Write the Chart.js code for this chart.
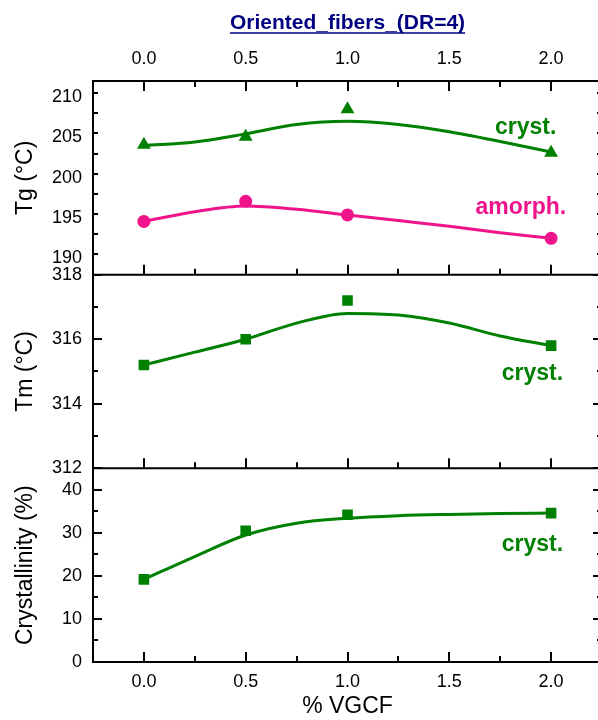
<!DOCTYPE html>
<html>
<head>
<meta charset="utf-8">
<script src="https://cdn.jsdelivr.net/npm/chart.js@4.4.1/dist/chart.umd.min.js"></script>
<style>
  html, body { margin: 0; padding: 0; background: #fff; overflow: hidden; }
  #wrap { position: absolute; left: 0; top: 0; width: 610px; height: 720px; }
</style>
</head>
<body>
<div id="wrap"><canvas id="chart" width="610" height="720"></canvas></div>
<script>
// measured samples
const vgcf = [0, 0.5, 1.0, 2.0];
const tgCryst = [204.1, 205.1, 208.5, 203.1];
const tgAmorph = [194.6, 197.1, 195.4, 192.5];
const tmCryst = [315.2, 316.0, 317.2, 315.8];
const crystallinity = [19.2, 30.5, 34.2, 34.6];

// smoothed fit curves
const fitX = [0, 0.25, 0.5, 0.75, 1.0, 1.25, 1.5, 1.75, 2.0];
const tgCrystFit = [204.0, 204.45, 205.45, 206.6, 207.0, 206.6, 205.7, 204.5, 203.2];
const tgAmorphFit = [194.6, 195.8, 196.5, 196.1, 195.4, 194.7, 194.0, 193.2, 192.5];
const tmFit = [315.2, 315.6, 316.0, 316.5, 316.8, 316.75, 316.5, 316.1, 315.8];
const crystFit = [19.2, 24.5, 29.5, 32.25, 33.4, 34.0, 34.3, 34.5, 34.6];

// tick labels
const xTicks = [0, 0.5, 1.0, 1.5, 2.0];
const tgTicks = [190, 195, 200, 205, 210];
const tmTicks = [312, 314, 316, 318];
const crystTicks = [0, 10, 20, 30, 40];

const green = '#008000';
const pink = '#f0148c';

Chart.defaults.font.family = '"Liberation Sans", Arial, sans-serif';

const pts = (xs, ys) => xs.map((x, i) => ({ x: x, y: ys[i] }));

function fitSet(ys, axis, color) {
  return {
    data: pts(fitX, ys), yAxisID: axis, xAxisID: 'x',
    borderColor: color, borderWidth: 3, pointRadius: 0,
    cubicInterpolationMode: 'monotone', fill: false
  };
}
function markSet(ys, axis, color, style, r) {
  return {
    data: pts(vgcf, ys), yAxisID: axis, xAxisID: 'x', showLine: false,
    pointStyle: style, pointRadius: r, pointBackgroundColor: color,
    pointBorderColor: color, pointBorderWidth: 0
  };
}

// panel info for the frame plugin
const panels = [
  { id: 'yTg', step: 5, minor: 2.5 },
  { id: 'yTm', step: 2, minor: 1 },
  { id: 'yCr', step: 10, minor: 5 }
];

const notes = [
  { text: 'cryst.', axis: 'yTg', x: 1.875, y: 205.47, color: green },
  { text: 'amorph.', axis: 'yTg', x: 1.851, y: 195.57, color: pink },
  { text: 'cryst.', axis: 'yTm', x: 1.908, y: 314.74, color: green },
  { text: 'cryst.', axis: 'yCr', x: 1.908, y: 25.88, color: green }
];

const isMajor = (v, step) => Math.abs(v / step - Math.round(v / step)) < 1e-6;

const frame = {
  id: 'frame',
  afterDraw(chart) {
    const { ctx, chartArea: a, scales } = chart;
    const x = scales.x;
    ctx.save();
    ctx.strokeStyle = '#000';
    ctx.lineWidth = 2;
    ctx.beginPath();
    panels.forEach(p => {
      const s = scales[p.id];
      ctx.rect(a.left, s.top, a.right - a.left, s.bottom - s.top);
      for (let v = s.min; v <= s.max + 1e-9; v += p.minor) {
        const py = Math.round(s.getPixelForValue(v));
        const len = isMajor(v, p.step) ? 9 : 5;
        ctx.moveTo(a.left, py); ctx.lineTo(a.left + len, py);
        ctx.moveTo(a.right, py); ctx.lineTo(a.right - len, py);
      }
      for (let v = 0; v <= 2.25 + 1e-9; v += 0.25) {
        const px = Math.round(x.getPixelForValue(v));
        const len = isMajor(v, 0.5) ? 10 : 6;
        ctx.moveTo(px, s.bottom); ctx.lineTo(px, s.bottom - len);
        if (p.id === 'yTg') { ctx.moveTo(px, s.top); ctx.lineTo(px, s.top + len); }
      }
    });
    ctx.stroke();

    // panel labels
    ctx.font = 'bold 23px "Liberation Sans", Arial, sans-serif';
    ctx.textAlign = 'center';
    ctx.textBaseline = 'alphabetic';
    notes.forEach(n => {
      ctx.fillStyle = n.color;
      ctx.fillText(n.text, x.getPixelForValue(n.x), scales[n.axis].getPixelForValue(n.y));
    });

    // underline for the top title
    const t = scales.x2;
    ctx.font = 'bold 21px "Liberation Sans", Arial, sans-serif';
    const w = ctx.measureText(t.options.title.text).width;
    const cx = (t.left + t.right) / 2;
    ctx.strokeStyle = '#000080';
    ctx.lineWidth = 1.5;
    ctx.beginPath();
    ctx.moveTo(cx - w / 2, 33);
    ctx.lineTo(cx + w / 2, 33);
    ctx.stroke();
    ctx.restore();
  }
};

function yAxis(min, max, ticks, title) {
  return {
    type: 'linear', position: 'left', stack: 'panels', stackWeight: 1,
    min: min, max: max,
    afterBuildTicks: s => { s.ticks = ticks.map(v => ({ value: v })); },
    afterFit: s => { s.width = 93; },
    grid: { display: false, drawTicks: false },
    border: { display: false },
    ticks: { color: '#000', font: { size: 18 }, padding: 11 },
    title: { display: true, text: title, color: '#000', font: { size: 23 }, padding: { top: 12, bottom: 0 } }
  };
}

new Chart(document.getElementById('chart'), {
  type: 'line',
  data: {
    datasets: [
      fitSet(tgCrystFit, 'yTg', green),
      fitSet(tgAmorphFit, 'yTg', pink),
      fitSet(tmFit, 'yTm', green),
      fitSet(crystFit, 'yCr', green),
      markSet(tgCryst, 'yTg', green, 'triangle', 8),
      markSet(tgAmorph, 'yTg', pink, 'circle', 6.5),
      markSet(tmCryst, 'yTm', green, 'rect', 7.5),
      markSet(crystallinity, 'yCr', green, 'rect', 7.5)
    ]
  },
  options: {
    responsive: false,
    animation: false,
    layout: { padding: 0 },
    plugins: { legend: { display: false }, tooltip: { enabled: false } },
    scales: {
      x: {
        type: 'linear', position: 'bottom', min: -0.25, max: 2.25,
        afterBuildTicks: s => { s.ticks = xTicks.map(v => ({ value: v })); },
        afterFit: s => { s.height = 58; },
        grid: { display: false, drawTicks: false },
        border: { display: false },
        ticks: { color: '#000', font: { size: 18 }, padding: 9, maxRotation: 0, callback: v => v.toFixed(1) },
        title: { display: true, text: '% VGCF', color: '#000', font: { size: 23 }, padding: 0 }
      },
      x2: {
        type: 'linear', position: 'top', min: -0.25, max: 2.25,
        afterBuildTicks: s => { s.ticks = xTicks.map(v => ({ value: v })); },
        afterFit: s => { s.height = 81; },
        grid: { display: false, drawTicks: false },
        border: { display: false },
        ticks: { color: '#000', font: { size: 18 }, padding: 11, maxRotation: 0, callback: v => v.toFixed(1) },
        title: { display: true, text: 'Oriented_fibers_(DR=4)', color: '#000080', font: { size: 21, weight: 'bold' }, padding: { top: 11, bottom: 0 } }
      },
      // stacked axes are laid out bottom-up in definition order
      yCr: yAxis(0, 45, crystTicks, 'Crystallinity (%)'),
      yTm: yAxis(312, 318, tmTicks, 'Tm (°C)'),
      yTg: yAxis(188, 212, tgTicks, 'Tg (°C)')
    }
  },
  plugins: [frame]
});
</script>
</body>
</html>
